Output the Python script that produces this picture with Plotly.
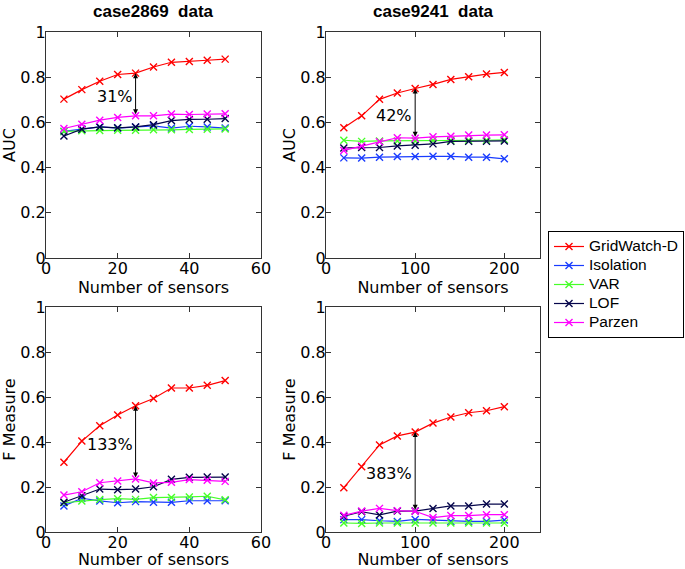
import plotly.graph_objects as go

W, H = 685, 569

methods = ["GridWatch-D", "Isolation", "VAR", "LOF", "Parzen"]
colors = ["rgb(255,0,0)", "rgb(25,60,255)", "rgb(70,255,40)", "rgb(5,5,75)", "rgb(255,0,255)"]

x_2869 = [5, 10, 15, 20, 25, 30, 35, 40, 45, 50]
x_9241 = [20, 40, 60, 80, 100, 120, 140, 160, 180, 200]

auc_2869 = {
    "GridWatch-D": [0.703, 0.745, 0.782, 0.812, 0.818, 0.845, 0.866, 0.869, 0.875, 0.880],
    "Isolation":   [0.560, 0.570, 0.580, 0.575, 0.580, 0.585, 0.575, 0.583, 0.580, 0.575],
    "VAR":         [0.560, 0.563, 0.564, 0.565, 0.565, 0.567, 0.567, 0.569, 0.570, 0.571],
    "LOF":         [0.540, 0.570, 0.580, 0.576, 0.580, 0.590, 0.608, 0.613, 0.614, 0.617],
    "Parzen":      [0.573, 0.592, 0.610, 0.622, 0.629, 0.629, 0.637, 0.635, 0.637, 0.638],
}
auc_9241 = {
    "GridWatch-D": [0.576, 0.629, 0.702, 0.730, 0.750, 0.768, 0.790, 0.802, 0.814, 0.821],
    "Isolation":   [0.443, 0.442, 0.446, 0.449, 0.449, 0.450, 0.450, 0.446, 0.446, 0.439],
    "VAR":         [0.521, 0.516, 0.518, 0.518, 0.518, 0.520, 0.521, 0.521, 0.521, 0.523],
    "LOF":         [0.487, 0.489, 0.489, 0.496, 0.499, 0.505, 0.516, 0.516, 0.516, 0.518],
    "Parzen":      [0.476, 0.496, 0.514, 0.532, 0.530, 0.536, 0.539, 0.544, 0.544, 0.545],
}
fm_2869 = {
    "GridWatch-D": [0.310, 0.404, 0.472, 0.520, 0.561, 0.593, 0.640, 0.640, 0.652, 0.673],
    "Isolation":   [0.116, 0.150, 0.138, 0.130, 0.135, 0.132, 0.132, 0.139, 0.139, 0.139],
    "VAR":         [0.130, 0.138, 0.144, 0.148, 0.145, 0.153, 0.153, 0.156, 0.159, 0.143],
    "LOF":         [0.132, 0.161, 0.191, 0.188, 0.191, 0.201, 0.234, 0.243, 0.244, 0.244],
    "Parzen":      [0.164, 0.179, 0.219, 0.227, 0.236, 0.218, 0.221, 0.233, 0.230, 0.225],
}
fm_9241 = {
    "GridWatch-D": [0.197, 0.290, 0.387, 0.427, 0.444, 0.484, 0.511, 0.530, 0.539, 0.557],
    "Isolation":   [0.055, 0.055, 0.050, 0.047, 0.056, 0.053, 0.047, 0.047, 0.047, 0.053],
    "VAR":         [0.040, 0.038, 0.040, 0.040, 0.040, 0.040, 0.040, 0.040, 0.040, 0.040],
    "LOF":         [0.070, 0.090, 0.076, 0.093, 0.093, 0.104, 0.116, 0.116, 0.124, 0.124],
    "Parzen":      [0.074, 0.093, 0.105, 0.095, 0.092, 0.064, 0.073, 0.073, 0.077, 0.077],
}

titles = ["case2869  data", "case9241  data"]
gains = ["31%", "42%", "133%", "383%"]
arrow_idx = [4, 4, 4, 4]

FONT = "DejaVu Sans"

def px_x(a, b):
    return [a / W, b / W]

def px_y(top, bottom):
    return [1 - bottom / H, 1 - top / H]

panels = [
    dict(data=auc_2869, x=x_2869, xd=px_x(46, 261), yd=px_y(32, 258), xr=[0, 60], dt=20, yt="AUC"),
    dict(data=auc_9241, x=x_9241, xd=px_x(326, 540), yd=px_y(32, 258), xr=[0, 240], dt=100, yt="AUC"),
    dict(data=fm_2869, x=x_2869, xd=px_x(46, 261), yd=px_y(307, 532), xr=[0, 60], dt=20, yt="F Measure"),
    dict(data=fm_9241, x=x_9241, xd=px_x(326, 540), yd=px_y(307, 532), xr=[0, 240], dt=100, yt="F Measure"),
]

fig = go.Figure()
layout = dict(
    width=W, height=H,
    margin=dict(l=0, r=0, t=0, b=0, autoexpand=False),
    paper_bgcolor="white", plot_bgcolor="white",
    font=dict(family=FONT, size=16, color="black"),
    showlegend=True,
    legend=dict(x=548 / W, y=1 - 231 / H, xanchor="left", yanchor="top",
                bordercolor="black", borderwidth=1, bgcolor="white",
                font=dict(family="Liberation Sans", size=12.3), itemwidth=30,
                tracegroupgap=0),
)
annotations = []

for i, p in enumerate(panels):
    xa = "x" if i == 0 else f"x{i+1}"
    ya = "y" if i == 0 else f"y{i+1}"
    for m, c in zip(methods, colors):
        fig.add_trace(go.Scatter(
            x=p["x"], y=p["data"][m], name=f'<span style="font-size:15.5px">{m}</span>',
            xaxis=xa, yaxis=ya,
            mode="lines+markers", showlegend=(i == 0),
            line=dict(color=c, width=1.2),
            marker=dict(symbol="x-thin", size=7, line=dict(color=c, width=1.4), color=c),
        ))
    axkey_x = "xaxis" if i == 0 else f"xaxis{i+1}"
    axkey_y = "yaxis" if i == 0 else f"yaxis{i+1}"
    common = dict(showline=True, linecolor="#333", linewidth=1, mirror="ticks",
                  ticks="inside", ticklen=5, tickcolor="#333", showgrid=False,
                  zeroline=False, automargin=False, tickfont=dict(family=FONT, size=16))
    layout[axkey_x] = dict(common, domain=p["xd"], range=p["xr"], dtick=p["dt"], tick0=0,
                           anchor=ya, ticklabelstandoff=-4,
                           title=dict(text="Number of sensors", standoff=3,
                                      font=dict(family=FONT, size=16)))
    layout[axkey_y] = dict(common, domain=p["yd"], range=[0, 1], dtick=0.2, tick0=0,
                           anchor=xa, ticklabelstandoff=-4,
                           title=dict(text=p["yt"], standoff=0,
                                      font=dict(family=FONT, size=16)))
    k = arrow_idx[i]
    xv = p["x"][k]
    top = p["data"]["GridWatch-D"][k]
    bot = p["data"]["Parzen"][k]
    annotations.append(dict(x=xv, y=top, ax=xv, ay=bot, xref=xa, yref=ya, axref=xa, ayref=ya,
                            text="", showarrow=True, arrowhead=2, arrowside="end+start",
                            arrowsize=1, arrowwidth=1, arrowcolor="black"))
    annotations.append(dict(x=xv, y=(top + bot) / 2, xref=xa, yref=ya, text=gains[i],
                            showarrow=False, xanchor="right", yanchor="middle",
                            xshift=-1, yshift=-2,
                            font=dict(family=FONT, size=16, color="black")))

for t, xd in zip(titles, [panels[0]["xd"], panels[1]["xd"]]):
    annotations.append(dict(x=(xd[0] + xd[1]) / 2, y=1 - 12 / H, xref="paper", yref="paper",
                            text=f"<b>{t}</b>", showarrow=False, xanchor="center",
                            yanchor="middle",
                            font=dict(family="Liberation Sans", size=17, color="black")))

layout["annotations"] = annotations
fig.update_layout(**layout)
fig.write_html("out.html", config={"displayModeBar": False},
               post_script="document.body.style.margin='0';document.body.style.padding='0';")
